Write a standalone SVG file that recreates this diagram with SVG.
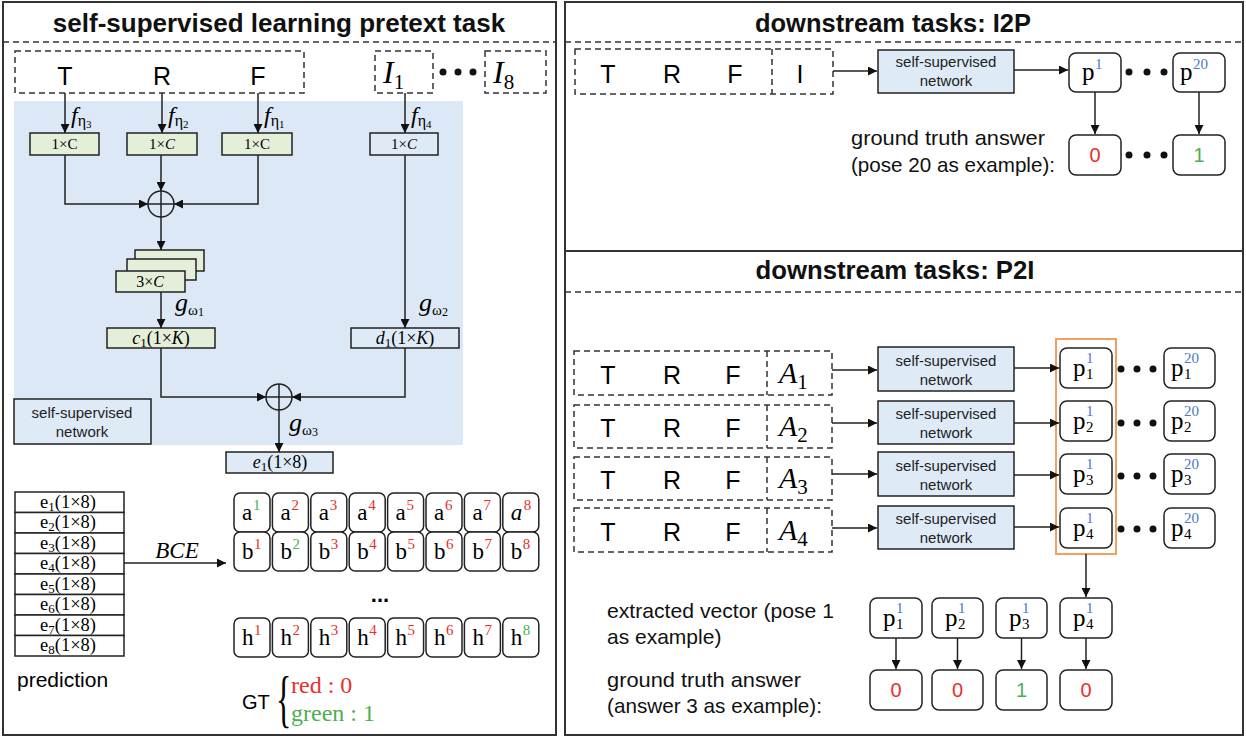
<svg xmlns="http://www.w3.org/2000/svg" width="1246" height="738" viewBox="0 0 1246 738">
<style>
.sans{font-family:"Liberation Sans",Arial,sans-serif}
.serif{font-family:"Liberation Serif","Times New Roman",serif}
.it{font-style:italic}
.box{fill:#fff;stroke:#222;stroke-width:1.5}
.gbox{fill:#e5eed8;stroke:#222;stroke-width:1.5}
.bbox{fill:#deebf7;stroke:#222;stroke-width:1.5}
.dash{fill:none;stroke:#333;stroke-width:1.5;stroke-dasharray:6 4}
.ln{fill:none;stroke:#222;stroke-width:1.5}
.arr{marker-end:url(#ah)}
.red{fill:#e8302a}
.grn{fill:#4caf50}
.blu{fill:#4a78c8}
.panel{fill:none;stroke:#333;stroke-width:2}
.title{font-family:"Liberation Sans",Arial,sans-serif;font-weight:bold;font-size:26px;fill:#111}
.lbl{font-family:"Liberation Sans",Arial,sans-serif;font-size:21px;fill:#111}
.net{font-family:"Liberation Sans",Arial,sans-serif;font-size:15px;fill:#222}
.dot{fill:#111}
.cl{font-size:23px}
.cs{font-size:15px}
.pl{font-size:25px}
.ps{font-size:15px}
</style>
<defs>
<marker id="ah" viewBox="0 0 10 10" refX="10" refY="5" markerWidth="9" markerHeight="9" markerUnits="userSpaceOnUse" orient="auto"><path d="M0,0 L10,5 L0,10 z" fill="#111"/></marker>
</defs>
<rect width="1246" height="738" fill="#fff"/>

<g id="panels">
<rect class="panel" x="3" y="2" width="553" height="733"/>
<rect class="panel" x="565" y="2" width="678" height="733"/>
<line class="panel" x1="565" y1="251" x2="1243" y2="251"/>
<line class="dash" x1="3" y1="42" x2="556" y2="42"/>
<line class="dash" x1="565" y1="42" x2="1243" y2="42"/>
<line class="dash" x1="565" y1="292" x2="1243" y2="292"/>
<text class="title" x="279" y="32" text-anchor="middle">self-supervised learning pretext task</text>
<text class="title" x="893" y="32" text-anchor="middle" textLength="276" lengthAdjust="spacingAndGlyphs">downstream tasks: I2P</text>
<text class="title" x="895" y="279" text-anchor="middle" textLength="279" lengthAdjust="spacingAndGlyphs">downstream tasks: P2I</text>
</g>

<!-- LEFT PANEL -->
<g id="bg-network">
<rect x="14" y="101" width="449" height="344" fill="#dce8f5"/>
</g>

<g id="input-trf">
<rect class="dash" x="15" y="51" width="289" height="42"/>
<text class="sans" font-size="25" x="65" y="85" text-anchor="middle">T</text>
<text class="sans" font-size="25" x="162" y="85" text-anchor="middle">R</text>
<text class="sans" font-size="25" x="258" y="85" text-anchor="middle">F</text>
</g>
<g id="input-i1">
<rect class="dash" x="375" y="51" width="58" height="42"/>
<text class="serif" x="383" y="83" font-size="32"><tspan class="it">I</tspan><tspan font-size="21" dy="6">1</tspan></text>
</g>
<g id="dots-i">
<circle class="dot" cx="443" cy="72" r="3.5"/><circle class="dot" cx="458" cy="72" r="3.5"/><circle class="dot" cx="473" cy="72" r="3.5"/>
</g>
<g id="input-i8">
<rect class="dash" x="485" y="51" width="61" height="42"/>
<text class="serif" x="493" y="83" font-size="32"><tspan class="it">I</tspan><tspan font-size="21" dy="6">8</tspan></text>
</g>

<g id="c1x1"><rect class="gbox" x="30" y="133" width="69" height="22"/><text class="serif" font-size="15" x="64.5" y="149" text-anchor="middle">1×C</text></g>
<g id="c1x2"><rect class="gbox" x="127" y="133" width="70" height="22"/><text class="serif" font-size="15" x="162" y="149" text-anchor="middle">1×<tspan class="it">C</tspan></text></g>
<g id="c1x3"><rect class="gbox" x="222" y="133" width="70" height="22"/><text class="serif" font-size="15" x="257" y="149" text-anchor="middle">1×C</text></g>
<g id="c1x4"><rect class="bbox" x="370" y="133" width="68" height="22"/><text class="serif" font-size="15" x="404" y="149" text-anchor="middle">1×<tspan class="it">C</tspan></text></g>

<g id="sum1">
<circle cx="161" cy="204" r="13" fill="none" stroke="#222" stroke-width="1.5"/>
<line class="ln" x1="148" y1="204" x2="174" y2="204"/><line class="ln" x1="161" y1="191" x2="161" y2="217"/>
</g>

<g id="stack3c">
<rect class="gbox" x="135" y="250" width="69" height="21"/>
<rect class="gbox" x="127" y="259" width="69" height="21"/>
<rect class="gbox" x="116" y="271" width="69" height="21"/>
<text class="serif" font-size="16" x="150" y="287" text-anchor="middle">3×<tspan class="it">C</tspan></text>
</g>

<g id="c1box"><rect class="gbox" x="107" y="328" width="108" height="20"/><text class="serif" font-size="18" x="161" y="344" text-anchor="middle"><tspan class="it">c</tspan><tspan font-size="13" dy="3">1</tspan><tspan dy="-3">(1×</tspan><tspan class="it">K</tspan>)</text></g>
<g id="d1box"><rect class="bbox" x="351" y="328" width="108" height="20"/><text class="serif" font-size="18" x="405" y="344" text-anchor="middle"><tspan class="it">d</tspan><tspan font-size="13" dy="3">1</tspan><tspan dy="-3">(1×</tspan><tspan class="it">K</tspan>)</text></g>

<g id="sum2">
<circle cx="279" cy="397" r="13" fill="none" stroke="#222" stroke-width="1.5"/>
<line class="ln" x1="266" y1="397" x2="292" y2="397"/><line class="ln" x1="279" y1="384" x2="279" y2="410"/>
</g>

<g id="netlabel"><rect class="bbox" x="14" y="399" width="137" height="45"/><text class="net" x="82" y="418" text-anchor="middle">self-supervised</text><text class="net" x="82" y="437" text-anchor="middle">network</text></g>

<g id="e1box"><rect class="bbox" x="226" y="452" width="107" height="21"/><text class="serif" font-size="18" x="280" y="468" text-anchor="middle"><tspan class="it">e</tspan><tspan font-size="13" dy="3">1</tspan><tspan dy="-3">(1×8)</tspan></text></g>

<g id="labels-fg" class="serif">
<text x="71" y="123" font-size="24"><tspan class="it">f</tspan><tspan font-size="16" dy="3">η</tspan><tspan font-size="11" dy="2">3</tspan></text>
<text x="168" y="123" font-size="24"><tspan class="it">f</tspan><tspan font-size="16" dy="3">η</tspan><tspan font-size="11" dy="2">2</tspan></text>
<text x="264" y="123" font-size="24"><tspan class="it">f</tspan><tspan font-size="16" dy="3">η</tspan><tspan font-size="11" dy="2">1</tspan></text>
<text x="411" y="123" font-size="24"><tspan class="it">f</tspan><tspan font-size="16" dy="3">η</tspan><tspan font-size="11" dy="2">4</tspan></text>
<text x="175" y="311" font-size="26"><tspan class="it">g</tspan><tspan font-size="15" dy="4">ω</tspan><tspan font-size="12" dy="1">1</tspan></text>
<text x="419" y="311" font-size="26"><tspan class="it">g</tspan><tspan font-size="15" dy="4">ω</tspan><tspan font-size="12" dy="1">2</tspan></text>
<text x="289" y="431" font-size="26"><tspan class="it">g</tspan><tspan font-size="15" dy="4">ω</tspan><tspan font-size="12" dy="1">3</tspan></text>
</g>

<g id="prediction" class="serif" font-size="18.5">
<rect class="box" x="15" y="492" width="109" height="20.5"/>
<rect class="box" x="15" y="512.5" width="109" height="20.5"/>
<rect class="box" x="15" y="533" width="109" height="20.5"/>
<rect class="box" x="15" y="553.5" width="109" height="20.5"/>
<rect class="box" x="15" y="574" width="109" height="20.5"/>
<rect class="box" x="15" y="594.5" width="109" height="20.5"/>
<rect class="box" x="15" y="615" width="109" height="20.5"/>
<rect class="box" x="15" y="635.5" width="109" height="20.5"/>
<text x="68" y="507.5" text-anchor="middle">e<tspan font-size="13" dy="3">1</tspan><tspan dy="-3">(1×8)</tspan></text>
<text x="68" y="528" text-anchor="middle">e<tspan font-size="13" dy="3">2</tspan><tspan dy="-3">(1×8)</tspan></text>
<text x="68" y="548.5" text-anchor="middle">e<tspan font-size="13" dy="3">3</tspan><tspan dy="-3">(1×8)</tspan></text>
<text x="68" y="569" text-anchor="middle">e<tspan font-size="13" dy="3">4</tspan><tspan dy="-3">(1×8)</tspan></text>
<text x="68" y="589.5" text-anchor="middle">e<tspan font-size="13" dy="3">5</tspan><tspan dy="-3">(1×8)</tspan></text>
<text x="68" y="610" text-anchor="middle">e<tspan font-size="13" dy="3">6</tspan><tspan dy="-3">(1×8)</tspan></text>
<text x="68" y="630.5" text-anchor="middle">e<tspan font-size="13" dy="3">7</tspan><tspan dy="-3">(1×8)</tspan></text>
<text x="68" y="651" text-anchor="middle">e<tspan font-size="13" dy="3">8</tspan><tspan dy="-3">(1×8)</tspan></text>
<text class="sans" font-size="21" x="17" y="687">prediction</text>
</g>

<g id="gt-grid" class="serif">
<g id="row-a">
<rect class="box" x="234" y="493" width="36" height="39" rx="6"/><text class="cl" x="242" y="520">a</text><text class="grn cs" x="253" y="510">1</text>
<rect class="box" x="272.4" y="493" width="36" height="39" rx="6"/><text class="cl" x="280.4" y="520">a</text><text class="red cs" x="291.4" y="510">2</text>
<rect class="box" x="310.8" y="493" width="36" height="39" rx="6"/><text class="cl" x="318.8" y="520">a</text><text class="red cs" x="329.8" y="510">3</text>
<rect class="box" x="349.2" y="493" width="36" height="39" rx="6"/><text class="cl" x="357.2" y="520">a</text><text class="red cs" x="368.2" y="510">4</text>
<rect class="box" x="387.6" y="493" width="36" height="39" rx="6"/><text class="cl" x="395.6" y="520">a</text><text class="red cs" x="406.6" y="510">5</text>
<rect class="box" x="426" y="493" width="36" height="39" rx="6"/><text class="cl" x="434" y="520">a</text><text class="red cs" x="445" y="510">6</text>
<rect class="box" x="464.4" y="493" width="36" height="39" rx="6"/><text class="cl" x="472.4" y="520">a</text><text class="red cs" x="483.4" y="510">7</text>
<rect class="box" x="502.8" y="493" width="36" height="39" rx="6"/><text class="cl it" x="510.8" y="520">a</text><text class="red cs" x="523.8" y="510">8</text>
</g>
<g id="row-b">
<rect class="box" x="234" y="532" width="36" height="39" rx="6"/><text class="cl" x="242" y="559">b</text><text class="red cs" x="254" y="549">1</text>
<rect class="box" x="272.4" y="532" width="36" height="39" rx="6"/><text class="cl" x="280.4" y="559">b</text><text class="grn cs" x="292.4" y="549">2</text>
<rect class="box" x="310.8" y="532" width="36" height="39" rx="6"/><text class="cl" x="318.8" y="559">b</text><text class="red cs" x="330.8" y="549">3</text>
<rect class="box" x="349.2" y="532" width="36" height="39" rx="6"/><text class="cl" x="357.2" y="559">b</text><text class="red cs" x="369.2" y="549">4</text>
<rect class="box" x="387.6" y="532" width="36" height="39" rx="6"/><text class="cl" x="395.6" y="559">b</text><text class="red cs" x="407.6" y="549">5</text>
<rect class="box" x="426" y="532" width="36" height="39" rx="6"/><text class="cl" x="434" y="559">b</text><text class="red cs" x="446" y="549">6</text>
<rect class="box" x="464.4" y="532" width="36" height="39" rx="6"/><text class="cl" x="472.4" y="559">b</text><text class="red cs" x="484.4" y="549">7</text>
<rect class="box" x="502.8" y="532" width="36" height="39" rx="6"/><text class="cl" x="510.8" y="559">b</text><text class="red cs" x="522.8" y="549">8</text>
</g>
<text class="sans" x="380" y="602" font-size="22" font-weight="bold" text-anchor="middle">...</text>
<g id="row-h">
<rect class="box" x="234" y="618" width="36" height="39" rx="6"/><text class="cl" x="242" y="645">h</text><text class="red cs" x="254" y="635">1</text>
<rect class="box" x="272.4" y="618" width="36" height="39" rx="6"/><text class="cl" x="280.4" y="645">h</text><text class="red cs" x="292.4" y="635">2</text>
<rect class="box" x="310.8" y="618" width="36" height="39" rx="6"/><text class="cl" x="318.8" y="645">h</text><text class="red cs" x="330.8" y="635">3</text>
<rect class="box" x="349.2" y="618" width="36" height="39" rx="6"/><text class="cl" x="357.2" y="645">h</text><text class="red cs" x="369.2" y="635">4</text>
<rect class="box" x="387.6" y="618" width="36" height="39" rx="6"/><text class="cl" x="395.6" y="645">h</text><text class="red cs" x="407.6" y="635">5</text>
<rect class="box" x="426" y="618" width="36" height="39" rx="6"/><text class="cl" x="434" y="645">h</text><text class="red cs" x="446" y="635">6</text>
<rect class="box" x="464.4" y="618" width="36" height="39" rx="6"/><text class="cl" x="472.4" y="645">h</text><text class="red cs" x="484.4" y="635">7</text>
<rect class="box" x="502.8" y="618" width="36" height="39" rx="6"/><text class="cl" x="510.8" y="645">h</text><text class="grn cs" x="522.8" y="635">8</text>
</g>
</g>

<g id="gt-legend">
<text class="sans" x="242" y="709" font-size="20">GT</text>
<text class="serif" x="0" y="0" font-size="64" transform="translate(276,720) scale(0.5,1)">{</text>
<text class="serif red" x="291" y="693" font-size="24">red : 0</text>
<text class="serif grn" x="291" y="721" font-size="24">green : 1</text>
</g>

<!-- RIGHT TOP: I2P -->
<g id="i2p-input">
<rect class="dash" x="575" y="49" width="258" height="45"/>
<line class="dash" x1="772" y1="49" x2="772" y2="94"/>
<text class="sans" font-size="25" x="608" y="83" text-anchor="middle">T</text>
<text class="sans" font-size="25" x="672" y="83" text-anchor="middle">R</text>
<text class="sans" font-size="25" x="735" y="83" text-anchor="middle">F</text>
<text class="sans" font-size="25" x="800" y="83" text-anchor="middle">I</text>
</g>
<g id="i2p-net"><rect class="bbox" x="878" y="50" width="136" height="43"/><text class="net" x="946" y="67" text-anchor="middle">self-supervised</text><text class="net" x="946" y="86" text-anchor="middle">network</text></g>
<g id="i2p-p1" class="serif"><rect class="box" x="1069" y="53" width="52" height="39" rx="7"/><text class="pl" x="1082" y="80">p</text><text class="blu ps" x="1095" y="69">1</text></g>
<g id="i2p-dots1"><circle class="dot" cx="1129" cy="72" r="3.5"/><circle class="dot" cx="1147" cy="72" r="3.5"/><circle class="dot" cx="1164" cy="72" r="3.5"/></g>
<g id="i2p-p20" class="serif"><rect class="box" x="1173" y="53" width="52" height="39" rx="7"/><text class="pl" x="1180" y="80">p</text><text class="blu ps" x="1193" y="69">20</text></g>
<g id="i2p-gt0"><rect class="box" x="1069" y="135" width="52" height="40" rx="7"/><text class="sans red" x="1095" y="162" font-size="20" text-anchor="middle">0</text></g>
<g id="i2p-dots2"><circle class="dot" cx="1129" cy="155" r="3.5"/><circle class="dot" cx="1147" cy="155" r="3.5"/><circle class="dot" cx="1164" cy="155" r="3.5"/></g>
<g id="i2p-gt1"><rect class="box" x="1173" y="135" width="52" height="40" rx="7"/><text class="sans grn" x="1199" y="162" font-size="20" text-anchor="middle">1</text></g>
<g id="i2p-text">
<text class="lbl" x="851" y="145" textLength="194" lengthAdjust="spacingAndGlyphs">ground truth answer</text>
<text class="lbl" x="851" y="172" textLength="204" lengthAdjust="spacingAndGlyphs">(pose 20 as example):</text>
</g>

<!-- RIGHT BOTTOM: P2I -->
<g id="p2i-inputs">
<rect class="dash" x="574" y="351" width="258" height="44"/><line class="dash" x1="767" y1="351" x2="767" y2="395"/>
<rect class="dash" x="574" y="405" width="258" height="43"/><line class="dash" x1="767" y1="405" x2="767" y2="448"/>
<rect class="dash" x="574" y="457" width="258" height="43"/><line class="dash" x1="767" y1="457" x2="767" y2="500"/>
<rect class="dash" x="574" y="508" width="258" height="44"/><line class="dash" x1="767" y1="508" x2="767" y2="552"/>
<g class="sans" font-size="25" text-anchor="middle">
<text x="608" y="384">T</text><text x="672" y="384">R</text><text x="733" y="384">F</text>
<text x="608" y="437">T</text><text x="672" y="437">R</text><text x="733" y="437">F</text>
<text x="608" y="489">T</text><text x="672" y="489">R</text><text x="733" y="489">F</text>
<text x="608" y="541">T</text><text x="672" y="541">R</text><text x="733" y="541">F</text>
</g>
<g class="serif" font-size="30">
<text x="779" y="383"><tspan class="it">A</tspan><tspan font-size="21" dy="6">1</tspan></text>
<text x="779" y="436"><tspan class="it">A</tspan><tspan font-size="21" dy="6">2</tspan></text>
<text x="779" y="488"><tspan class="it">A</tspan><tspan font-size="21" dy="6">3</tspan></text>
<text x="779" y="540"><tspan class="it">A</tspan><tspan font-size="21" dy="6">4</tspan></text>
</g>
</g>
<g id="p2i-nets">
<rect class="bbox" x="878" y="347" width="136" height="44"/><text class="net" x="946" y="366" text-anchor="middle">self-supervised</text><text class="net" x="946" y="385" text-anchor="middle">network</text>
<rect class="bbox" x="878" y="401" width="136" height="43"/><text class="net" x="946" y="419" text-anchor="middle">self-supervised</text><text class="net" x="946" y="438" text-anchor="middle">network</text>
<rect class="bbox" x="878" y="452" width="136" height="44"/><text class="net" x="946" y="471" text-anchor="middle">self-supervised</text><text class="net" x="946" y="490" text-anchor="middle">network</text>
<rect class="bbox" x="878" y="506" width="136" height="43"/><text class="net" x="946" y="524" text-anchor="middle">self-supervised</text><text class="net" x="946" y="543" text-anchor="middle">network</text>
</g>
<g id="p2i-p1col" class="serif">
<rect class="box" x="1060" y="348" width="52" height="40" rx="7"/><text class="pl" x="1073" y="376">p</text><text class="blu ps" x="1086" y="363">1</text><text class="ps" x="1086" y="379">1</text>
<rect class="box" x="1060" y="401" width="52" height="40" rx="7"/><text class="pl" x="1073" y="429">p</text><text class="blu ps" x="1086" y="416">1</text><text class="ps" x="1086" y="432">2</text>
<rect class="box" x="1060" y="454" width="52" height="40" rx="7"/><text class="pl" x="1073" y="482">p</text><text class="blu ps" x="1086" y="469">1</text><text class="ps" x="1086" y="485">3</text>
<rect class="box" x="1060" y="508" width="52" height="40" rx="7"/><text class="pl" x="1073" y="536">p</text><text class="blu ps" x="1086" y="523">1</text><text class="ps" x="1086" y="539">4</text>
</g>
<g id="p2i-select"><rect x="1056" y="339" width="60" height="215" fill="none" stroke="#f0a060" stroke-width="2"/></g>
<g id="p2i-dots">
<circle class="dot" cx="1121" cy="369" r="3.5"/><circle class="dot" cx="1137" cy="369" r="3.5"/><circle class="dot" cx="1153" cy="369" r="3.5"/>
<circle class="dot" cx="1121" cy="423" r="3.5"/><circle class="dot" cx="1137" cy="423" r="3.5"/><circle class="dot" cx="1153" cy="423" r="3.5"/>
<circle class="dot" cx="1121" cy="476" r="3.5"/><circle class="dot" cx="1137" cy="476" r="3.5"/><circle class="dot" cx="1153" cy="476" r="3.5"/>
<circle class="dot" cx="1121" cy="529" r="3.5"/><circle class="dot" cx="1137" cy="529" r="3.5"/><circle class="dot" cx="1153" cy="529" r="3.5"/>
</g>
<g id="p2i-p20col" class="serif">
<rect class="box" x="1164" y="348" width="51" height="40" rx="7"/><text class="pl" x="1171" y="376">p</text><text class="blu ps" x="1184" y="363">20</text><text class="ps" x="1184" y="379">1</text>
<rect class="box" x="1164" y="401" width="51" height="40" rx="7"/><text class="pl" x="1171" y="429">p</text><text class="blu ps" x="1184" y="416">20</text><text class="ps" x="1184" y="432">2</text>
<rect class="box" x="1164" y="454" width="51" height="40" rx="7"/><text class="pl" x="1171" y="482">p</text><text class="blu ps" x="1184" y="469">20</text><text class="ps" x="1184" y="485">3</text>
<rect class="box" x="1164" y="508" width="51" height="40" rx="7"/><text class="pl" x="1171" y="536">p</text><text class="blu ps" x="1184" y="523">20</text><text class="ps" x="1184" y="539">4</text>
</g>
<g id="p2i-extracted" class="serif">
<rect class="box" x="870" y="598" width="52" height="40" rx="7"/><text class="pl" x="883" y="626">p</text><text class="blu ps" x="896" y="613">1</text><text class="ps" x="896" y="629">1</text>
<rect class="box" x="932" y="598" width="51" height="40" rx="7"/><text class="pl" x="945" y="626">p</text><text class="blu ps" x="958" y="613">1</text><text class="ps" x="958" y="629">2</text>
<rect class="box" x="996" y="598" width="51" height="40" rx="7"/><text class="pl" x="1009" y="626">p</text><text class="blu ps" x="1022" y="613">1</text><text class="ps" x="1022" y="629">3</text>
<rect class="box" x="1060" y="598" width="52" height="40" rx="7"/><text class="pl" x="1073" y="626">p</text><text class="blu ps" x="1086" y="613">1</text><text class="ps" x="1086" y="629">4</text>
</g>
<g id="p2i-gt" class="sans" font-size="20" text-anchor="middle">
<rect class="box" x="870" y="670" width="52" height="40" rx="7"/><text class="red" x="896" y="697">0</text>
<rect class="box" x="932" y="670" width="51" height="40" rx="7"/><text class="red" x="957.5" y="697">0</text>
<rect class="box" x="996" y="670" width="51" height="40" rx="7"/><text class="grn" x="1021.5" y="697">1</text>
<rect class="box" x="1060" y="670" width="52" height="40" rx="7"/><text class="red" x="1086" y="697">0</text>
</g>
<g id="p2i-text">
<text class="lbl" x="607" y="618" textLength="227" lengthAdjust="spacingAndGlyphs">extracted vector (pose 1</text>
<text class="lbl" x="607" y="644">as example)</text>
<text class="lbl" x="607" y="687" textLength="194" lengthAdjust="spacingAndGlyphs">ground truth answer</text>
<text class="lbl" x="607" y="713" textLength="215" lengthAdjust="spacingAndGlyphs">(answer 3 as example):</text>
</g>

<g id="connectors">
<line class="ln arr" x1="65" y1="93" x2="65" y2="133"/>
<line class="ln arr" x1="162" y1="93" x2="162" y2="133"/>
<line class="ln arr" x1="258" y1="93" x2="258" y2="133"/>
<line class="ln arr" x1="405" y1="93" x2="405" y2="133"/>
<polyline class="ln arr" points="65,155 65,204 148,204"/>
<polyline class="ln arr" points="258,155 258,204 174,204"/>
<line class="ln arr" x1="161" y1="155" x2="161" y2="191"/>
<line class="ln arr" x1="161" y1="217" x2="161" y2="250"/>
<line class="ln arr" x1="161" y1="292" x2="161" y2="328"/>
<line class="ln arr" x1="405" y1="155" x2="405" y2="328"/>
<polyline class="ln arr" points="161,348 161,397 266,397"/>
<polyline class="ln arr" points="405,348 405,397 292,397"/>
<line class="ln arr" x1="279" y1="410" x2="279" y2="452"/>
<line class="ln arr" x1="124" y1="563" x2="226" y2="563"/>
<line class="ln arr" x1="833" y1="71" x2="877" y2="71"/>
<line class="ln arr" x1="1014" y1="70" x2="1068" y2="70"/>
<line class="ln arr" x1="1095" y1="92" x2="1095" y2="134"/>
<line class="ln arr" x1="1199" y1="92" x2="1199" y2="134"/>
<line class="ln arr" x1="832" y1="370" x2="877" y2="370"/>
<line class="ln arr" x1="832" y1="423" x2="877" y2="423"/>
<line class="ln arr" x1="832" y1="474" x2="877" y2="474"/>
<line class="ln arr" x1="832" y1="528" x2="877" y2="528"/>
<line class="ln arr" x1="1014" y1="368" x2="1059" y2="368"/>
<line class="ln arr" x1="1014" y1="423" x2="1059" y2="423"/>
<line class="ln arr" x1="1014" y1="475" x2="1059" y2="475"/>
<line class="ln arr" x1="1014" y1="527" x2="1059" y2="527"/>
<line class="ln arr" x1="1086" y1="554" x2="1086" y2="597"/>
<line class="ln arr" x1="896" y1="638" x2="896" y2="669"/>
<line class="ln arr" x1="957.5" y1="638" x2="957.5" y2="669"/>
<line class="ln arr" x1="1021.5" y1="638" x2="1021.5" y2="669"/>
<line class="ln arr" x1="1086" y1="638" x2="1086" y2="669"/>
</g>
<text class="serif it" x="177" y="558" font-size="23" text-anchor="middle">BCE</text>
</svg>
